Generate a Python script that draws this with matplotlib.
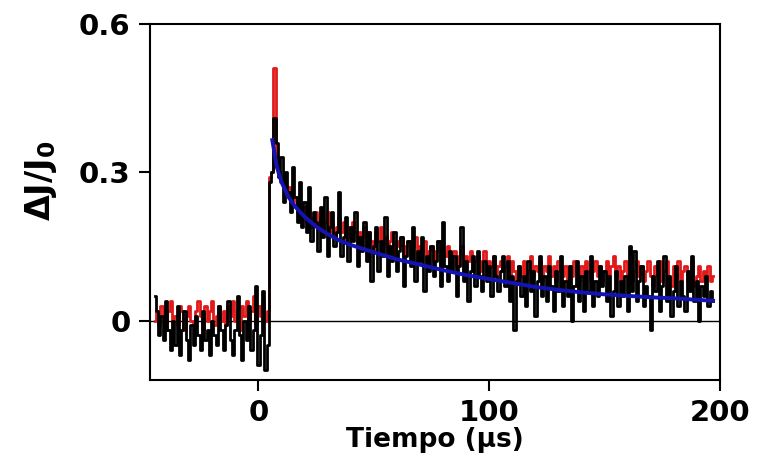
import matplotlib
matplotlib.use("Agg")
import matplotlib.pyplot as plt
import numpy as np

# time grid (µs), 1 µs per sample
t = np.arange(-45, 198, 1)

# traces
black_pre = [0.05, 0.02, -0.03, 0.01, -0.04, 0.04, -0.02, -0.06, 0.00, -0.05,
             0.03, -0.07, -0.02, 0.02, -0.04, -0.08, -0.01, -0.05, 0.01, -0.03,
             -0.06, 0.02, -0.04, -0.02, -0.07, 0.00, -0.03, -0.05, 0.03, -0.02,
             -0.06, -0.01, 0.04, -0.04, -0.07, -0.02, 0.05, -0.03, -0.08, 0.00,
             -0.04, 0.03, -0.06, -0.02, 0.07, -0.09, -0.03, 0.06, -0.10, -0.05]
black_post = [0.28, 0.30, 0.41, 0.36, 0.29, 0.33, 0.24, 0.30, 0.26, 0.22,
              0.31, 0.25, 0.20, 0.28, 0.19, 0.24, 0.18, 0.27, 0.16, 0.22,
              0.20, 0.14, 0.23, 0.17, 0.25, 0.13, 0.19, 0.22, 0.15, 0.18,
              0.26, 0.13, 0.17, 0.21, 0.12, 0.19, 0.16, 0.22, 0.11, 0.17,
              0.14, 0.20, 0.12, 0.18, 0.08, 0.15, 0.19, 0.10, 0.16, 0.13,
              0.21, 0.09, 0.15, 0.12, 0.18, 0.10, 0.14, 0.17, 0.07, 0.13,
              0.16, 0.11, 0.19, 0.08, 0.14, 0.12, 0.17, 0.06, 0.13, 0.10,
              0.15, 0.09, 0.12, 0.16, 0.07, 0.20, 0.11, 0.08, 0.14, 0.10,
              0.13, 0.05, 0.11, 0.19, 0.08, 0.12, 0.04, 0.10, 0.13, 0.07,
              0.14, 0.09, 0.06, 0.12, 0.08, 0.11, 0.05, 0.13, 0.09, 0.06,
              0.10, 0.13, 0.07, 0.12, 0.04, 0.09, -0.02, 0.08, 0.11, 0.05,
              0.09, 0.03, 0.12, 0.06, 0.10, 0.01, 0.08, 0.13, 0.05, 0.09,
              0.04, 0.11, 0.07, 0.02, 0.10, 0.06, 0.13, 0.03, 0.08, 0.05,
              0.11, 0.00, 0.07, 0.12, 0.04, 0.09, 0.02, 0.10, 0.06, 0.13,
              0.03, 0.08, 0.05, 0.11, 0.07, 0.10, 0.04, 0.09, 0.01, 0.06,
              0.10, 0.03, 0.08, 0.05, 0.09, 0.02, 0.15, 0.06, 0.14, 0.04,
              0.08, 0.11, 0.03, 0.07, 0.05, -0.02, 0.09, 0.06, 0.12, 0.02,
              0.07, 0.13, 0.04, 0.09, 0.01, 0.06, 0.11, 0.03, 0.08, 0.05,
              0.02, 0.10, 0.06, 0.13, 0.04, 0.08, 0.00, 0.07, 0.05, 0.09,
              0.03, 0.06, 0.04]

red_pre = [0.00, 0.02, -0.01, 0.03, 0.01, -0.02, 0.02, 0.04, 0.00, 0.01,
           -0.01, 0.03, 0.02, -0.02, 0.01, 0.03, 0.00, -0.01, 0.02, 0.04,
           0.01, -0.02, 0.03, 0.00, 0.02, 0.04, -0.01, 0.01, 0.03, 0.00,
           0.02, -0.01, 0.03, 0.01, 0.04, 0.00, 0.02, -0.02, 0.03, 0.01,
           0.04, 0.00, 0.02, 0.05, -0.01, 0.03, 0.01, 0.04, 0.00, 0.02]
red_post = [0.29, 0.30, 0.51, 0.33, 0.30, 0.28, 0.29, 0.26, 0.27, 0.25,
            0.24, 0.25, 0.22, 0.24, 0.21, 0.23, 0.20, 0.22, 0.19, 0.21,
            0.22, 0.19, 0.21, 0.18, 0.20, 0.22, 0.18, 0.20, 0.17, 0.19,
            0.21, 0.18, 0.20, 0.16, 0.19, 0.17, 0.20, 0.18, 0.15, 0.18,
            0.17, 0.19, 0.15, 0.18, 0.16, 0.14, 0.18, 0.16, 0.19, 0.15,
            0.17, 0.14, 0.16, 0.18, 0.13, 0.16, 0.15, 0.17, 0.13, 0.15,
            0.16, 0.13, 0.15, 0.17, 0.12, 0.15, 0.14, 0.16, 0.12, 0.14,
            0.15, 0.12, 0.14, 0.16, 0.11, 0.14, 0.13, 0.15, 0.11, 0.13,
            0.14, 0.11, 0.13, 0.15, 0.10, 0.13, 0.12, 0.14, 0.10, 0.12,
            0.13, 0.10, 0.12, 0.14, 0.09, 0.12, 0.11, 0.13, 0.09, 0.11,
            0.12, 0.10, 0.11, 0.13, 0.09, 0.12, 0.10, 0.08, 0.11, 0.09,
            0.12, 0.08, 0.10, 0.13, 0.09, 0.11, 0.10, 0.12, 0.08, 0.11,
            0.10, 0.13, 0.09, 0.11, 0.08, 0.12, 0.10, 0.09, 0.11, 0.08,
            0.11, 0.09, 0.12, 0.10, 0.08, 0.11, 0.09, 0.12, 0.10, 0.08,
            0.10, 0.12, 0.09, 0.11, 0.08, 0.10, 0.12, 0.09, 0.11, 0.13,
            0.09, 0.11, 0.08, 0.10, 0.12, 0.09, 0.11, 0.08, 0.10, 0.12,
            0.09, 0.11, 0.08, 0.10, 0.12, 0.09, 0.07, 0.11, 0.09, 0.12,
            0.08, 0.10, 0.12, 0.09, 0.07, 0.11, 0.09, 0.12, 0.08, 0.10,
            0.11, 0.08, 0.10, 0.12, 0.07, 0.09, 0.11, 0.08, 0.10, 0.09,
            0.11, 0.08, 0.09]

# fitted decay (blue)
fit_t = [6, 8, 10, 13, 16, 20, 25, 30, 35, 40, 50, 60, 70, 80, 90, 100,
         110, 120, 130, 140, 150, 160, 170, 180, 190, 197]
fit_y = [0.365, 0.31, 0.28, 0.25, 0.23, 0.21, 0.19, 0.175, 0.162, 0.153,
         0.138, 0.124, 0.113, 0.102, 0.092, 0.084, 0.076, 0.068, 0.062,
         0.057, 0.053, 0.050, 0.047, 0.045, 0.042, 0.040]

black = black_pre + black_post
red = red_pre + red_post

fig = plt.figure(figsize=(7.59, 4.61), dpi=100)
ax = fig.add_axes([0.1976, 0.176, 0.751, 0.772])

ax.axhline(0, color="black", lw=1.0, zorder=1)
ax.plot(t, red, drawstyle="steps-mid", color="#e01a1a", lw=2.0, zorder=2)
ax.plot(t, black, drawstyle="steps-mid", color="black", lw=2.0, zorder=3)
ax.plot(fit_t, fit_y, color="#1414b4", lw=2.8, zorder=4)

ax.set_xlim(-47, 200)
ax.set_ylim(-0.12, 0.6)
ax.set_xticks([0, 100, 200])
ax.set_xticklabels(["0", "100", "200"])
ax.set_yticks([0, 0.3, 0.6])
ax.set_yticklabels(["0", "0.3", "0.6"])

for s in ax.spines.values():
    s.set_linewidth(1.5)
ax.tick_params(direction="out", length=8, width=1.5, labelsize=21, pad=6)
for lab in ax.get_xticklabels() + ax.get_yticklabels():
    lab.set_fontweight("bold")

ax.set_xlabel("Tiempo (µs)", fontsize=19, fontweight="bold", labelpad=0)
ax.set_ylabel(r"$\mathbf{\Delta J/J_0}$", fontsize=24)
ax.yaxis.set_label_coords(-0.16, 0.56)

fig.savefig("out.png", dpi=100)
